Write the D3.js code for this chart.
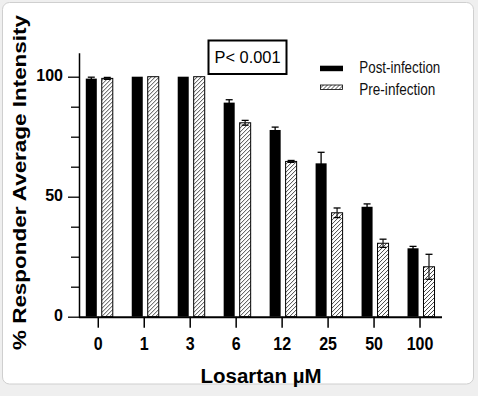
<!DOCTYPE html>
<html>
<head>
<meta charset="utf-8">
<script src="https://cdn.jsdelivr.net/npm/d3@7"></script>
<style>
  html, body { margin: 0; padding: 0; background: #efefef; }
  svg { display: block; }
</style>
</head>
<body>
<svg id="chart" width="478" height="396"></svg>
<script>
// ---- data ----
const categories = ["0", "1", "3", "6", "12", "25", "50", "100"];
const seriesNames = ["Post-infection", "Pre-infection"];
const postValues = [99.2, 100, 100, 89.2, 77.8, 63.9, 45.8, 28.5];
const postErrors = [0.6, 0, 0, 1.2, 1.2, 4.6, 1.2, 0.8];
const preValues  = [99.3, 100, 100, 80.8, 64.7, 43.3, 30.6, 20.8];
const preErrors  = [0.4, 0, 0, 1.0, 0.4, 2.0, 1.7, 5.2];
const yTickValues = [0, 50, 100];
const yMinorTicks = [12.5, 25, 37.5, 62.5, 75, 87.5];
const pLabel = "P< 0.001";
const xTitle = "Losartan \u00B5M";
const yTitle = "% Responder Average Intensity";

const svg = d3.select("#chart");

// frame
svg.append("rect")
  .attr("x", 2.5).attr("y", 2.5).attr("width", 471).attr("height", 381.5)
  .attr("rx", 7).attr("fill", "#fff").attr("stroke", "#cfcfcf").attr("stroke-width", 1);

// hatch pattern
const defs = svg.append("defs");
defs.append("pattern")
  .attr("id", "hatch").attr("patternUnits", "userSpaceOnUse")
  .attr("width", 4).attr("height", 4)
  .call(p => {
    p.append("rect").attr("width", 4).attr("height", 4).attr("fill", "#fff");
    p.append("path").attr("d", "M-1,1 l2,-2 M0,4 l4,-4 M3,5 l2,-2")
      .attr("stroke", "#333").attr("stroke-width", 0.9);
  });

// scales
const x = d3.scaleBand().domain(categories).range([75.3, 443]).paddingInner(0).paddingOuter(0);
const y = d3.scaleLinear().domain([0, 110]).range([316.7, 52.7]);
const x1 = d3.scaleBand().domain(seriesNames).range([-12.5, 14.5]).paddingInner(0.31).paddingOuter(0);
const center = c => x(c) + x.bandwidth() / 2;

const rows = categories.map((c, i) => ({
  cat: c,
  vals: [
    { s: seriesNames[0], v: postValues[i], e: postErrors[i] },
    { s: seriesNames[1], v: preValues[i], e: preErrors[i] }
  ]
}));

// bars
const g = svg.append("g");
const grp = g.selectAll("g.grp").data(rows).join("g").attr("class", "grp")
  .attr("transform", d => `translate(${center(d.cat)},0)`);

grp.selectAll("rect").data(d => d.vals).join("rect")
  .attr("x", d => x1(d.s))
  .attr("y", d => y(d.v))
  .attr("width", x1.bandwidth())
  .attr("height", d => y(0) - y(d.v))
  .attr("fill", d => d.s === seriesNames[0] ? "#000" : "url(#hatch)")
  .attr("stroke", "#000")
  .attr("stroke-width", d => d.s === seriesNames[0] ? 0 : 1);

// error bars
const eb = grp.selectAll("g.eb").data(d => d.vals.filter(v => v.e > 0)).join("g").attr("class", "eb");
eb.append("line")
  .attr("x1", d => x1(d.s) + x1.bandwidth() / 2).attr("x2", d => x1(d.s) + x1.bandwidth() / 2)
  .attr("y1", d => y(d.v + d.e)).attr("y2", d => y(d.v - d.e))
  .attr("stroke", d => d.s === seriesNames[0] ? "#000" : "#222").attr("stroke-width", 1.3);
eb.selectAll("line.cap").data(d => [{ d, t: d.v + d.e }, { d, t: d.v - d.e }]).join("line").attr("class", "cap")
  .attr("x1", o => x1(o.d.s) + x1.bandwidth() / 2 - 3.5)
  .attr("x2", o => x1(o.d.s) + x1.bandwidth() / 2 + 3.5)
  .attr("y1", o => y(o.t)).attr("y2", o => y(o.t))
  .attr("stroke", "#000").attr("stroke-width", 1.3);

// y axis
const yAxis = d3.axisLeft(y).tickValues(yTickValues).tickSize(11).tickSizeOuter(0).tickFormat(d3.format("d"));
const yg = svg.append("g").attr("transform", "translate(79,0)").call(yAxis);
yg.select(".domain").attr("stroke-width", 1.5);
yg.selectAll(".tick line").attr("stroke-width", 1.3);
yg.selectAll(".tick text")
  .attr("x", -16).attr("dy", "0.22em")
  .attr("font-family", "Liberation Sans, Arial, sans-serif")
  .attr("font-weight", "bold").attr("font-size", 16).attr("fill", "#000");
const ym = d3.axisLeft(y).tickValues(yMinorTicks).tickSize(8).tickSizeOuter(0).tickFormat("");
const ymg = svg.append("g").attr("transform", "translate(79,0)").call(ym);
ymg.select(".domain").remove();
ymg.selectAll(".tick line").attr("stroke-width", 1.3);

// x axis
const xAxis = d3.axisBottom(x).tickSize(11).tickSizeOuter(0);
const xg = svg.append("g").attr("transform", `translate(0,${y(0)})`).call(xAxis);
xg.select(".domain").attr("d", "M79,0.5H442").attr("stroke-width", 2);
xg.selectAll(".tick line").attr("stroke-width", 1.5);
xg.selectAll(".tick text")
  .attr("y", 33).attr("dy", 0)
  .attr("font-family", "Liberation Sans, Arial, sans-serif")
  .attr("font-weight", "bold").attr("font-size", 19).attr("fill", "#000")
  .attr("textLength", d => 8.9 * String(d).length)
  .attr("lengthAdjust", "spacingAndGlyphs");

// axis titles
svg.append("text")
  .attr("transform", "translate(26,182.5) rotate(-90)")
  .attr("text-anchor", "middle")
  .attr("font-family", "Liberation Sans, Arial, sans-serif")
  .attr("font-weight", "bold").attr("font-size", 18)
  .attr("textLength", 335).attr("lengthAdjust", "spacingAndGlyphs")
  .text(yTitle);

svg.append("text")
  .attr("x", 261).attr("y", 383)
  .attr("text-anchor", "middle")
  .attr("font-family", "Liberation Sans, Arial, sans-serif")
  .attr("font-weight", "bold").attr("font-size", 20)
  .attr("textLength", 121).attr("lengthAdjust", "spacingAndGlyphs")
  .text(xTitle);

// P box
svg.append("rect")
  .attr("x", 208.5).attr("y", 40.5).attr("width", 78).attr("height", 33.5)
  .attr("fill", "#fff").attr("stroke", "#000").attr("stroke-width", 2);
svg.append("text")
  .attr("x", 247.5).attr("y", 63.3).attr("text-anchor", "middle")
  .attr("font-family", "Liberation Sans, Arial, sans-serif").attr("font-size", 16)
  .attr("textLength", 66).attr("lengthAdjust", "spacingAndGlyphs")
  .text(pLabel);

// legend
const legendWidths = [81, 76];
const leg = svg.append("g").selectAll("g").data(seriesNames).join("g")
  .attr("transform", (d, i) => `translate(320,${i === 0 ? 65.7 : 84.5})`);
leg.append("rect")
  .attr("x", (d, i) => i === 0 ? 0 : 0.5).attr("y", (d, i) => i === 0 ? 0 : 0.5)
  .attr("width", (d, i) => i === 0 ? 23 : 22).attr("height", (d, i) => i === 0 ? 5.5 : 4.5)
  .attr("fill", (d, i) => i === 0 ? "#000" : "url(#hatch)")
  .attr("stroke", (d, i) => i === 0 ? "none" : "#000").attr("stroke-width", 0.8);
leg.append("text")
  .attr("x", 39.3).attr("y", (d, i) => i === 0 ? 7.6 : 10.5)
  .attr("font-family", "Liberation Sans, Arial, sans-serif").attr("font-size", 16)
  .attr("textLength", (d, i) => legendWidths[i]).attr("lengthAdjust", "spacingAndGlyphs")
  .attr("fill", "#111")
  .text(d => d);
</script>
</body>
</html>
